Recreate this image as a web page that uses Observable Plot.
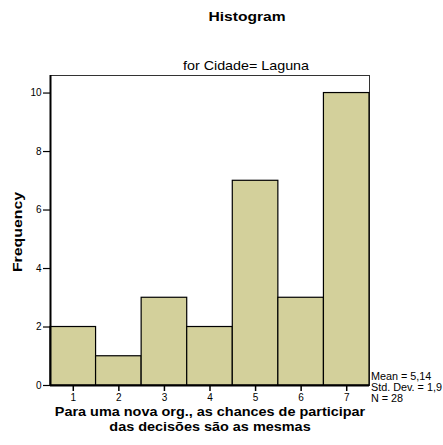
<!DOCTYPE html>
<html>
<head>
<meta charset="utf-8">
<script src="https://cdn.jsdelivr.net/npm/d3@7"></script>
<script src="https://cdn.jsdelivr.net/npm/@observablehq/plot@0.6"></script>
<style>
  body { margin: 0; background: #fff; font-family: "Liberation Sans", Arial, Helvetica, sans-serif; }
  #wrap { position: relative; width: 443px; height: 445px; overflow: hidden; }
  #wrap svg { position: absolute; left: 0; top: 0; }
  .t { position: absolute; white-space: nowrap; color: #000; }
</style>
</head>
<body>
<div id="wrap">
  <div class="t" id="title" style="left:247px;top:16px;font-weight:bold;font-size:13px;transform:translate(-50%,-50%) scaleX(1.2);">Histogram</div>
  <div class="t" id="subtitle" style="left:246px;top:65px;font-size:13px;transform:translate(-50%,-50%) scaleX(1.1);">for Cidade= Laguna</div>
  <div class="t" id="ylabel" style="left:17px;top:232px;font-weight:bold;font-size:13px;transform:translate(-50%,-50%) rotate(-90deg) scaleX(1.22);">Frequency</div>
  <div class="t" id="xlabel" style="left:210px;top:419px;font-weight:bold;font-size:13px;line-height:15px;text-align:center;transform:translate(-50%,-50%) scaleX(1.11);"></div>
  <div class="t" id="stats" style="left:371px;top:371px;font-size:10px;line-height:11px;transform-origin:0 0;transform:scaleX(1.08);"></div>
</div>
<script>
// Data
const categories = [1, 2, 3, 4, 5, 6, 7];
const frequencies = [2, 1, 3, 2, 7, 3, 10];
const yTicks = [0, 2, 4, 6, 8, 10];
const xLabelLines = ["Para uma nova org., as chances de participar", "das decisões são as mesmas"];
const statsLines = ["Mean = 5,14", "Std. Dev. = 1,9", "N = 28"];

const data = categories.map((c, i) => ({c, n: frequencies[i]}));

document.getElementById("xlabel").innerHTML = xLabelLines.join("<br>");
document.getElementById("stats").innerHTML = statsLines.join("<br>");

const chart = Plot.plot({
  width: 443,
  height: 445,
  marginTop: 75,
  marginLeft: 50,
  marginRight: 74,
  marginBottom: 60,
  style: {fontFamily: '"Liberation Sans", Arial, Helvetica, sans-serif', fontSize: "10px", color: "#000", background: "transparent"},
  x: {domain: [0.5, 7.5], label: null},
  y: {domain: [0, 10.6], label: null},
  marks: [
    Plot.frame({stroke: "#333", strokeWidth: 1}),
    Plot.rectY(data, {x1: d => d.c - 0.5, x2: d => d.c + 0.5, y: "n", fill: "#d3d09b", stroke: "#000", strokeWidth: 1.2, inset: 0}),
    Plot.ruleY([0], {stroke: "#000", strokeWidth: 2}),
    Plot.ruleX([0.5], {stroke: "#000", strokeWidth: 2}),
    Plot.axisX({ticks: categories, tickFormat: d => String(d), tickSize: 6, tickPadding: 2, stroke: "#000", strokeWidth: 1.5, label: null}),
    Plot.axisY({ticks: yTicks, tickFormat: d => String(d), tickSize: 7, tickPadding: 2, stroke: "#000", strokeWidth: 1.2, label: null})
  ]
});
document.getElementById("wrap").insertBefore(chart, document.getElementById("wrap").firstChild);
</script>
</body>
</html>
